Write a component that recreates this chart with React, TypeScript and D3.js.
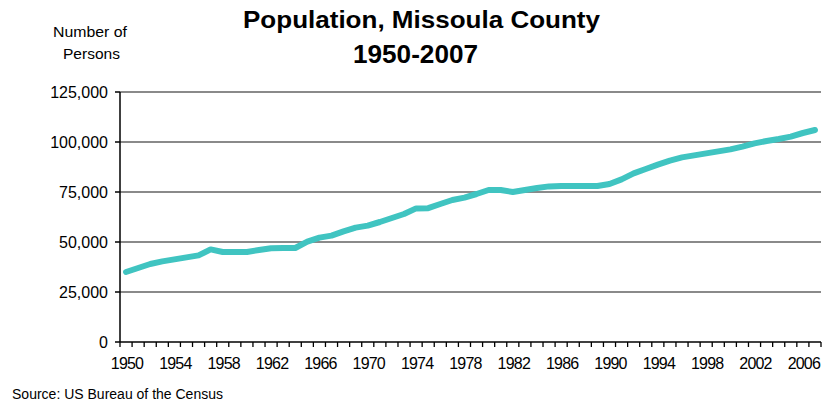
import React from 'react';
import * as d3 from 'd3';

const years: number[] = [
  1950, 1951, 1952, 1953, 1954, 1955, 1956, 1957, 1958, 1959,
  1960, 1961, 1962, 1963, 1964, 1965, 1966, 1967, 1968, 1969,
  1970, 1971, 1972, 1973, 1974, 1975, 1976, 1977, 1978, 1979,
  1980, 1981, 1982, 1983, 1984, 1985, 1986, 1987, 1988, 1989,
  1990, 1991, 1992, 1993, 1994, 1995, 1996, 1997, 1998, 1999,
  2000, 2001, 2002, 2003, 2004, 2005, 2006, 2007
];

const population: number[] = [
  35000, 37000, 39000, 40300, 41300, 42300, 43300, 46300, 45000, 45000,
  45000, 46000, 46900, 47000, 47000, 50200, 52200, 53200, 55300, 57200,
  58200, 60000, 62000, 64000, 66800, 66900, 69000, 71000, 72200, 74000,
  76000, 76000, 75000, 76000, 77000, 77800, 78000, 78000, 78000, 78000,
  79000, 81300, 84300, 86500, 88700, 90700, 92300, 93300, 94300, 95300,
  96300, 97700, 99300, 100500, 101500, 102700, 104500, 106000
];

const yTicks: number[] = [0, 25000, 50000, 75000, 100000, 125000];
const xLabelYears: number[] = years.filter(y => (y - 1950) % 4 === 0);

const width = 825;
const height = 405;
const margin = { top: 92, right: 4, bottom: 63, left: 120 };
const font = '"Liberation Sans", Arial, sans-serif';

export default function App() {
  const x = d3.scaleBand<number>()
    .domain(years)
    .range([margin.left, width - margin.right])
    .paddingInner(0)
    .paddingOuter(0);

  const y = d3.scaleLinear()
    .domain([0, 125000])
    .range([height - margin.bottom, margin.top]);

  const line = d3.line<number>()
    .x((_, i) => (x(years[i]) as number) + x.bandwidth() / 2)
    .y(d => y(d));

  const fmt = d3.format(',');
  const x0 = margin.left;
  const x1 = width - margin.right;
  const yBase = y(0);

  // category boundaries for x ticks
  const boundaries = years.map(yr => x(yr) as number).concat([x1]);

  return (
    <svg width={width} height={height}
      style={{ position: 'absolute', left: 0, top: 0, background: '#fff', fontFamily: font }}>
      {/* title */}
      <text x={243} y={28} fontSize={24} fontWeight="bold" textLength={357} lengthAdjust="spacingAndGlyphs">
        Population, Missoula County
      </text>
      <text x={353} y={63} fontSize={25} fontWeight="bold" textLength={125} lengthAdjust="spacingAndGlyphs">
        1950-2007
      </text>

      {/* y axis title */}
      <text x={53} y={37} fontSize={14.5} textLength={74} lengthAdjust="spacingAndGlyphs">Number of</text>
      <text x={63} y={59} fontSize={14.5} textLength={57} lengthAdjust="spacingAndGlyphs">Persons</text>

      {/* gridlines */}
      {yTicks.filter(t => t > 0).map(t => (
        <line key={'g' + t} x1={x0} x2={x1} y1={y(t)} y2={y(t)} stroke="#8a8a8a" strokeWidth={1.8} />
      ))}

      {/* y axis */}
      <line x1={x0} x2={x0} y1={y(125000)} y2={yBase} stroke="#000" strokeWidth={1.5} />
      {yTicks.map(t => (
        <g key={'y' + t}>
          <line x1={x0 - 5} x2={x0} y1={y(t)} y2={y(t)} stroke="#000" strokeWidth={1.5} />
          <text x={108} y={y(t)} dy="0.35em" textAnchor="end" fontSize={16}>
            {fmt(t)}
          </text>
        </g>
      ))}

      {/* x axis */}
      <line x1={x0} x2={x1} y1={yBase} y2={yBase} stroke="#000" strokeWidth={1.5} />
      {boundaries.map((bx, i) => (
        <line key={'t' + i} x1={bx} x2={bx} y1={yBase} y2={yBase + 5} stroke="#000" strokeWidth={1.3} />
      ))}
      {xLabelYears.map(yr => (
        <text key={'x' + yr} x={(x(yr) as number) + x.bandwidth() / 2 + 1} y={369}
          textAnchor="middle" fontSize={16} letterSpacing={-0.8}>
          {yr}
        </text>
      ))}

      {/* data line */}
      <path d={line(population) || ''} fill="none" stroke="#40C4C1" strokeWidth={6}
        strokeLinecap="round" strokeLinejoin="round" />

      {/* source */}
      <text x={12} y={399} fontSize={14} textLength={211} lengthAdjust="spacingAndGlyphs">
        Source: US Bureau of the Census
      </text>
    </svg>
  );
}
